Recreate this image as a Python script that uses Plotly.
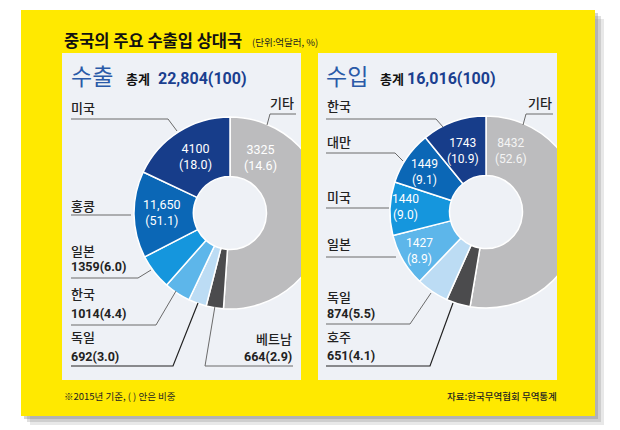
import plotly.graph_objects as go

# ---------------- data ----------------
# Export (수출) — listed counter-clockwise from 12 o'clock, as drawn
export_countries = ["미국", "홍콩", "일본", "한국", "독일", "베트남", "기타"]
# slice sizes as they appear in the picture (홍콩 slice ≈14.6%, 기타 slice ≈51.1%)
export_slice_values = [4100, 3325, 1359, 1014, 692, 664, 11650]
# the numbers printed on the reference (홍콩/기타 labels are swapped there)
export_label_values = ["4100", "11,650", "1359", "1014", "692", "664", "3325"]
export_label_shares = ["18.0", "51.1", "6.0", "4.4", "3.0", "2.9", "14.6"]
export_total = "22,804(100)"

# Import (수입)
import_countries = ["한국", "대만", "미국", "일본", "독일", "호주", "기타"]
import_values = [1743, 1449, 1440, 1427, 874, 651, 8432]
import_label_values = ["1743", "1449", "1440", "1427", "874", "651", "8432"]
import_label_shares = ["10.9", "9.1", "9.0", "8.9", "5.5", "4.1", "52.6"]
import_total = "16,016(100)"

colors = ["#173d8a", "#0b67b6", "#1596dd", "#5db6ea", "#bcdcf4", "#4b4b4d", "#bcbcbe"]

# ---------------- helpers ----------------
W, H = 620, 430
YEL = "#ffe900"
PANEL = "#eef1f6"
FONT = "Noto Sans CJK KR"


def px(x):
    return x / W


def py(y):
    return 1 - y / H


fig = go.Figure()


def add_donut(values, names, cx, cy, r):
    # drawn clockwise from 12 o'clock in reversed order == counter-clockwise in list order
    fig.add_trace(go.Pie(
        values=values[::-1], labels=names[::-1], sort=False, direction="clockwise",
        rotation=0, hole=0.38, textinfo="none", hoverinfo="label+value",
        marker=dict(colors=colors[::-1], line=dict(color="white", width=1.5)),
        domain=dict(x=[px(cx - r), px(cx + r)], y=[py(cy + r), py(cy - r)]),
        showlegend=False,
    ))


add_donut(export_slice_values, export_countries, 222, 205, 96)
add_donut(import_values, import_countries, 478, 204, 96)

shapes = []
# card shadow
for off, op in [(9, 0.18), (6, 0.25), (3, 0.35)]:
    shapes.append(dict(type="rect", xref="paper", yref="paper", layer="below",
                       x0=px(13 + off), x1=px(587 + off), y0=py(408 + off), y1=py(2 + off),
                       fillcolor="#808080", opacity=op, line_width=0))
# yellow card
shapes.append(dict(type="rect", xref="paper", yref="paper", layer="below",
                   x0=px(13), x1=px(587), y0=py(408), y1=py(2), fillcolor=YEL, line_width=0))
# panels
for x0, x1 in [(54, 293), (310, 549)]:
    shapes.append(dict(type="rect", xref="paper", yref="paper", layer="below",
                       x0=px(x0), x1=px(x1), y0=py(372), y1=py(45), fillcolor=PANEL, line_width=0))
# clip donuts at panel edges
shapes.append(dict(type="rect", xref="paper", yref="paper", layer="above",
                   x0=px(293), x1=px(310), y0=py(305), y1=py(105), fillcolor=YEL, line_width=0))
shapes.append(dict(type="rect", xref="paper", yref="paper", layer="above",
                   x0=px(310), x1=px(319), y0=py(305), y1=py(105), fillcolor=PANEL, line_width=0))
shapes.append(dict(type="rect", xref="paper", yref="paper", layer="above",
                   x0=px(549), x1=px(587), y0=py(305), y1=py(105), fillcolor=YEL, line_width=0))


def leader(points, color="#6a6a6a", width=1):
    path = "M " + " L ".join(f"{px(x)},{py(y)}" for x, y in points)
    shapes.append(dict(type="path", xref="paper", yref="paper", layer="above", path=path,
                       line=dict(color=color, width=width)))


# export leaders
leader([(63, 111), (160, 111), (169, 123)])
leader([(288, 106), (262, 106), (259, 117)])
leader([(63, 207), (123, 207)])
leader([(63, 270), (130, 270), (143, 262)])
leader([(63, 317), (148, 317), (168, 283)])
leader([(63, 358), (165, 358), (190, 295)], color="#222", width=1.2)
leader([(285, 358), (197, 358), (207, 298)])
# import leaders
leader([(318, 111), (428, 111), (435, 119)])
leader([(545, 106), (518, 106), (515, 117)])
leader([(318, 145), (387, 145), (395, 153)])
leader([(318, 200), (381, 200)])
leader([(318, 249), (388, 249)])
leader([(318, 316), (402, 316), (423, 285)])
leader([(318, 358), (422, 358), (445, 295)], color="#222", width=1.2)

ann = []


def text(x, y, s, size=13, color="#222", anchor="left", bold=False, family=FONT, weight=None):
    if bold:
        s = f"<b>{s}</b>"
    f = dict(size=size, color=color, family=family)
    if weight:
        f["weight"] = weight
    ann.append(dict(x=px(x), y=py(y), xref="paper", yref="paper", text=s, showarrow=False,
                    xanchor=anchor, yanchor="middle", align=anchor if anchor != "center" else "center",
                    font=f))


# header
text(54, 32, "중국의 주요 수출입 상대국", size=16.5, color="#111", bold=True)
text(242, 34, "(단위:억달러, %)", size=9.5, color="#222")
text(61, 67, "수출", size=23, color="#2a5aa8")
text(116, 70, "총계", size=13, color="#111", bold=True)
text(148, 70, export_total, size=16, color="#1b3f8f", bold=True, family="Roboto")
text(316, 67, "수입", size=23, color="#2a5aa8")
text(370, 70, "총계", size=13, color="#111", bold=True)
text(397, 70, import_total, size=16, color="#1b3f8f", bold=True, family="Roboto")

LW = 500
# export outside labels
text(61, 99, export_countries[0], weight=LW)
text(288, 95, export_countries[6], anchor="right", weight=LW)
text(61, 197, export_countries[1], weight=LW)
lab_y = [(242, 258), (285, 305), (328, 348)]
for i, (y1, y2) in zip([2, 3, 4], lab_y):
    text(61, y1, export_countries[i], weight=LW)
    text(61, y2, f"{export_label_values[i]}({export_label_shares[i]})", size=12.5, bold=True,
         family="Roboto")
text(286, 330, export_countries[5], anchor="right", weight=LW)
text(286, 348, f"{export_label_values[5]}({export_label_shares[5]})", size=12.5, bold=True,
     anchor="right", family="Roboto")

# export inside labels
for i, (x, y) in zip([0, 6, 1], [(187, 148), (252, 150), (154, 204)]):
    text(x, y, f"{export_label_values[i]}<br>({export_label_shares[i]})", size=12.5,
         color="white", anchor="center", family="Roboto")

# import outside labels
text(317, 98, import_countries[0], weight=LW)
text(546, 95, import_countries[6], anchor="right", weight=LW)
text(317, 133, import_countries[1], weight=LW)
text(317, 188, import_countries[2], weight=LW)
text(317, 235, import_countries[3], weight=LW)
for i, (y1, y2) in zip([4, 5], [(288, 305), (328, 347)]):
    text(317, y1, import_countries[i], weight=LW)
    text(317, y2, f"{import_label_values[i]}({import_label_shares[i]})", size=12.5, bold=True,
         family="Roboto")

# import inside labels
for i, (x, y) in zip([0, 6, 1, 2, 3], [(455, 143), (503, 143), (416, 164), (397, 199), (411, 243)]):
    text(x, y, f"{import_label_values[i]}<br>({import_label_shares[i]})", size=12,
         color="white" if i != 6 else "#f4f4f4", anchor="center", family="Roboto")

# footnotes
text(54, 388, "※2015년 기준, ( ) 안은 비중", size=9.5, color="#222")
text(551, 388, "자료:한국무역협회 무역통계", size=9.5, color="#222", anchor="right", weight=LW)

fig.update_layout(
    width=W, height=H, autosize=False,
    margin=dict(l=0, r=0, t=0, b=0),
    paper_bgcolor="white", plot_bgcolor="white",
    shapes=shapes, annotations=ann,
    showlegend=False,
)

fig.write_html("out.html")
